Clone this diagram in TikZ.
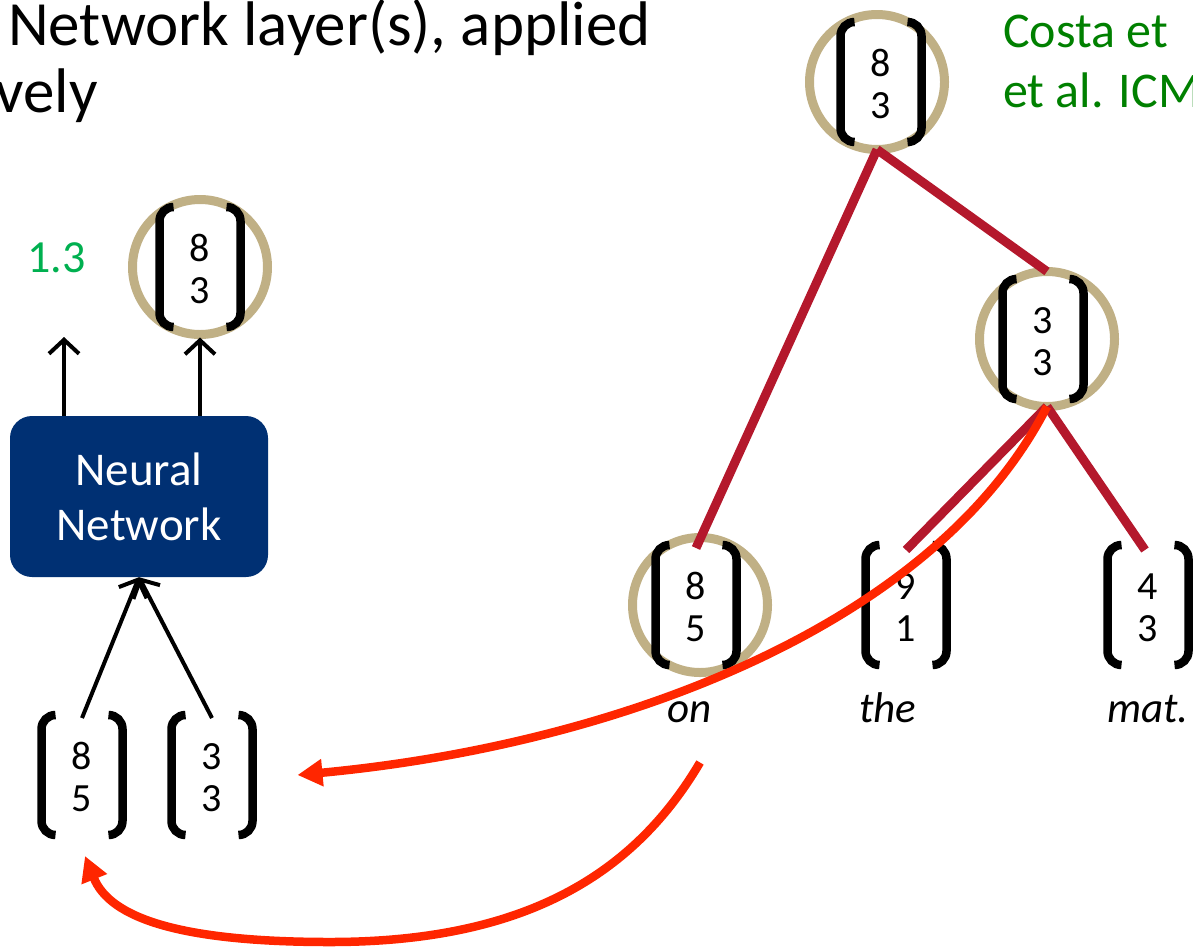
\documentclass[tikz,border=0pt]{standalone}
\usepackage{fontspec}
\setmainfont{Carlito}
\usetikzlibrary{arrows.meta,calc}

\definecolor{navy}{RGB}{0,48,115}
\definecolor{ringtan}{RGB}{192,176,133}
\definecolor{treered}{RGB}{180,24,44}
\definecolor{feedred}{RGB}{255,38,0}
\definecolor{citegreen}{RGB}{0,128,0}
\definecolor{scoregreen}{RGB}{0,176,80}

% a two-entry column vector in bracket-pair form
\newcommand\vecpair[4]{%
  \node[vecbox] (#1) at (#2) {};
  \draw[bracket] ($(#1.north west)+(18,4)$) -- ($(#1.north west)+(4,4)$)
                 -- ($(#1.south west)+(4,-4)$) -- ($(#1.south west)+(18,-4)$);
  \draw[bracket] ($(#1.north east)+(-18,4)$) -- ($(#1.north east)+(-4,4)$)
                 -- ($(#1.south east)+(-4,-4)$) -- ($(#1.south east)+(-18,-4)$);
  \node[digit] (#1-a) at ($(#1.center)+(0,-6)$) {#3};
  \node[digit] (#1-b) at ($(#1.center)+(0,36)$) {#4};
}

\begin{document}
\begin{tikzpicture}[x=1pt,y=-1pt,
  title/.style={inner sep=0, font=\fontsize{63}{70}\selectfont},
  cite/.style={inner sep=0, text=citegreen, font=\fontsize{50}{60}\selectfont},
  score/.style={inner sep=0, text=scoregreen, font=\fontsize{46}{50}\selectfont},
  digit/.style={inner sep=0, anchor=base, font=\fontsize{40}{42}\selectfont},
  word/.style={inner sep=0, anchor=base, font=\fontsize{43}{46}\selectfont\itshape},
  vecbox/.style={rectangle, minimum width=89pt, minimum height=128pt, inner sep=0, outer sep=0},
  bracket/.style={line width=8.5pt, rounded corners=14pt},
  ring/.style={circle, draw=ringtan, line width=9pt, minimum size=135pt, inner sep=0, outer sep=0},
  nnbox/.style={rectangle, rounded corners=22pt, fill=navy, text=white, align=center,
    minimum width=258pt, minimum height=161pt, inner sep=0,
    font=\fontsize{47}{55}\selectfont},
  nnarrow/.style={line width=4pt, -{Straight Barb[length=14pt,width=30pt]}},
  edge/.style={treered, line width=9pt},
  feed/.style={feedred, line width=8.5pt, -{Triangle[length=25pt,width=26pt]}}]

\useasboundingbox (0,0) rectangle (1193,951);
\clip (0,0) rectangle (1193,951);

% heading and citation
\node[title, anchor=base west] (head1) at (8,45) {Network layer(s), applied};
\node[title, anchor=base east] (head2) at (98,112) {vely};
\node[cite, anchor=base west] (cite1) at (1003,47) {Costa et};
\node[cite, anchor=base west] (cite2) at (1003,107) {et al. ICM};

% one composition step
\node[nnbox] (nn) at (139,496.5) {Neural\\Network};
\node[ring] (outc) at (200,267) {};
\vecpair{out}{200,267}{8}{3}
\node[score, anchor=base west] (score) at (27,272) {1.3};
\coordinate (scoretip) at (64,337);
\vecpair{in1}{82,775}{8}{5}
\vecpair{in2}{212,775}{3}{3}

\draw[nnarrow] (nn.north -| scoretip) -- (scoretip);
\draw[nnarrow, shorten >=3pt] (nn.north -| outc.south) -- (outc.south);
\draw[nnarrow] ([yshift=-7pt]in1.north) -- (nn.south);
\draw[nnarrow] ([yshift=-7pt]in2.north) -- (nn.south);

% parse tree
\node[ring] (topc) at (877,82) {};
\vecpair{top}{881,82}{8}{3}
\node[ring] (n33c) at (1047,339) {};
\vecpair{n33}{1043,339}{3}{3}
\node[ring] (onc) at (700,605) {};
\vecpair{on}{696,605}{8}{5}
\vecpair{the}{906,605}{9}{1}
\vecpair{mat}{1148,605}{4}{3}
\node[word] (lon) at (690,722) {on};
\node[word] (lthe) at (888,722) {the};
\node[word] (lmat) at (1148,722) {mat.};

\draw[edge] (topc.south) -- ([yshift=-7pt]on.north);
\draw[edge] (topc.south) -- (n33c.north);
\draw[edge] (n33c.south) -- ([yshift=-9pt]the.north);
\draw[edge] (n33c.south) -- ([shift={(-3pt,-9pt)}]mat.north);

% children fed back as inputs
\coordinate (loopbottom) at (330,942);
\draw[feed] (n33c.south) .. controls (935,626) and (617,745) .. ([xshift=41pt]in2.east);
\draw[feed] ([shift={(10pt,-40pt)}]lon.south) .. controls (632,878) and (520,942) .. (loopbottom)
            .. controls (180,942) and (110,918) .. ([shift={(3pt,-17pt)}]in1.south);

\end{tikzpicture}
\end{document}
